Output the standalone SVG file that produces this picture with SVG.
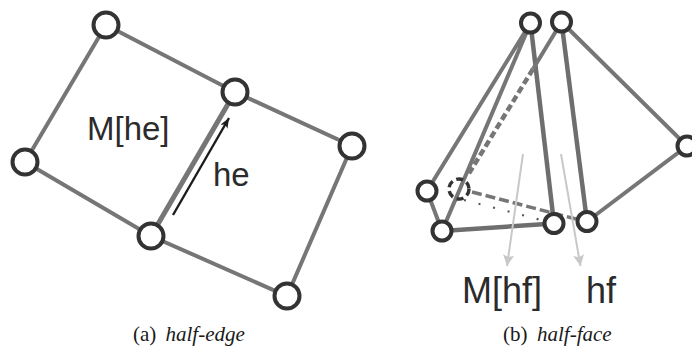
<svg xmlns="http://www.w3.org/2000/svg" width="692" height="347" viewBox="0 0 692 347">
<defs>
<marker id="ah" markerUnits="userSpaceOnUse" markerWidth="12" markerHeight="12" refX="10" refY="4" orient="auto"><path d="M0 0L10 4L0 8L2.500 4Z" fill="#1c1c1c"/></marker>
<marker id="lh" markerUnits="userSpaceOnUse" markerWidth="14" markerHeight="12" refX="11" refY="5.500" orient="auto"><path d="M0 0L11 5.500L0 11L2 5.500Z" fill="#c8c8c8"/></marker>
</defs>
<style>
.e{stroke:#767676;stroke-width:4;fill:none}
.t{stroke:#6e6e6e;stroke-width:4.500;fill:none}
.n circle{fill:#fff;stroke:#333;stroke-width:4}
.l{font-family:"Liberation Sans",Arial,sans-serif;font-size:33px;fill:#2b2b2b}
.r{font-family:"Liberation Sans",Arial,sans-serif;font-size:36px;fill:#2b2b2b}
.c{font-family:"Liberation Serif","Times New Roman",serif;font-size:21px;fill:#1a1a1a}
.a{stroke:#c8c8c8;stroke-width:2;fill:none}
</style>
<rect width="692" height="347" fill="#fff"/>
<g id="connectors">
<path class="e" d="M106 25L25 162L151 236L287 296L352 146L235 92L106 25"/>
<path class="e" style="stroke-width:5" d="M151 236L235 92"/>
<path d="M173 215L229 118" stroke="#1c1c1c" stroke-width="2.400" fill="none" marker-end="url(#ah)"/>
<path class="e" d="M530.500 23L427 191L442 231L530.500 23"/>
<path class="t" d="M530.500 23L554 223.500"/>
<path class="t" d="M442 231L554 223.500"/>
<path class="e" d="M561.500 22L533 69"/>
<path class="t" d="M561.500 22L587 221.500"/>
<path class="e" d="M561.500 22L687 146L587 221.500"/>
<path class="e" style="stroke-width:4.500" stroke-dasharray="7 3.500" d="M533 69L468 175"/>
<path class="e" style="stroke-width:3.500" stroke-dasharray="10 4" d="M472 192L576 219"/>
<path d="M464 200L545 221" stroke="#555" stroke-width="2.200" stroke-dasharray="2 13" fill="none"/>
<path class="a" d="M523 154L507 266" marker-end="url(#lh)"/>
<path class="a" d="M561 154L580.500 266" marker-end="url(#lh)"/>
</g>
<g id="n1" class="n"><circle cx="106" cy="25" r="12.500"/></g>
<g id="n2" class="n"><circle cx="25" cy="162" r="12.500"/></g>
<g id="n3" class="n"><circle cx="151" cy="236" r="12.500"/></g>
<g id="n4" class="n"><circle cx="235" cy="92" r="12.500"/></g>
<g id="n5" class="n"><circle cx="352" cy="146" r="12.500"/></g>
<g id="n6" class="n"><circle cx="287" cy="296" r="12.500"/></g>
<g id="m1" class="n"><circle cx="530.500" cy="23" r="9.500"/></g>
<g id="m2" class="n"><circle cx="561.500" cy="22" r="9.500"/></g>
<g id="m3" class="n"><circle cx="427" cy="191" r="9.500"/></g>
<g id="m4" class="n"><circle cx="442" cy="231" r="9.500"/></g>
<g id="m5" class="n"><circle cx="554" cy="223.500" r="9.500"/></g>
<g id="m6" class="n"><circle cx="587" cy="221.500" r="9.500"/></g>
<g id="m7" class="n"><circle cx="687" cy="146" r="9.500"/></g>
<g id="m8"><circle cx="459" cy="189" r="10" fill="none" stroke="#333" stroke-width="3.500" stroke-dasharray="7 4"/></g>
<text class="l" x="87" y="140">M[he]</text>
<text class="l" x="213" y="186">he</text>
<text class="r" x="462" y="303">M[hf]</text>
<text class="r" x="586" y="303">hf</text>
<text class="c" x="133" y="341">(a)<tspan x="165.500" font-style="italic">half-edge</tspan></text>
<text class="c" x="503" y="341">(b)<tspan x="537" font-style="italic">half-face</tspan></text>
</svg>
